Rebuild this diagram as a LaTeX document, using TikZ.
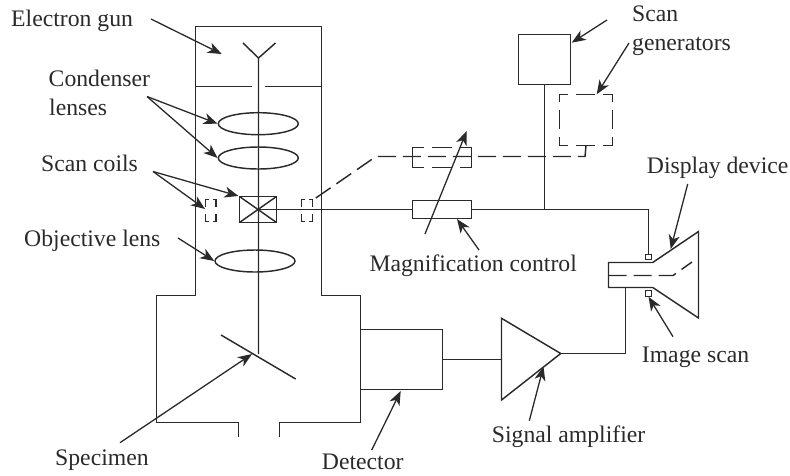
\documentclass[tikz,border=0pt]{standalone}
\usepackage{fontspec}
\setmainfont{Liberation Serif}
\usetikzlibrary{arrows.meta,shapes.geometric}
\definecolor{ink}{HTML}{2A2A2A}
\tikzset{
  lbl/.style={inner sep=0pt,anchor=base west,text=ink,font=\fontsize{23.7}{28}\selectfont},
  ln/.style={draw=ink,line width=1.45pt},
  dsh/.style={draw=ink,line width=1.45pt,dash pattern=on 18pt off 7pt},
  dshh/.style={draw=ink,line width=1.45pt,dash pattern=on 19pt off 8pt,dash phase=10pt},
  dshv/.style={draw=ink,line width=1.45pt,dash pattern=on 19pt off 8pt,dash phase=11pt},
  dshm/.style={draw=ink,line width=1.45pt,dash pattern=on 20pt off 8pt,dash phase=8.5pt},
  arr/.style={draw=ink,line width=1.3pt,-{Stealth[length=14pt,width=11pt,inset=4pt]}},
  lens/.style={draw=ink,line width=1.45pt,ellipse,inner sep=0pt,minimum width=80pt,minimum height=22pt},
  blk/.style={draw=ink,line width=1.45pt,inner sep=0pt},
  ghost/.style={inner sep=0pt}
}
\begin{document}
\begin{tikzpicture}[x=1pt,y=-1pt]
\useasboundingbox (0,0) rectangle (790,475);
% text
\node[lbl] (tgun) at (11,26.7) {Electron gun};
\node[lbl] (tcond) at (48.5,86.7) {Condenser};
\node[lbl] (tlens) at (49,115) {lenses};
\node[lbl] (tcoil) at (41,171) {Scan coils};
\node[lbl] (tobj) at (24,246) {Objective lens};
\node[lbl] (tmag) at (369.3,271) {Magnification control};
\node[lbl] (tscan) at (632,21.7) {Scan};
\node[lbl] (tgen) at (632,50.7) {generators};
\node[lbl] (tdisp) at (646.7,173) {Display device};
\node[lbl] (timg) at (641.7,362.7) {Image scan};
\node[lbl] (tsig) at (491.7,442.7) {Signal amplifier};
\node[lbl] (tdet) at (321.7,469) {Detector};
\node[lbl] (tspe) at (55,465) {Specimen};
% column and chamber
\draw[ln] (238.5,437) -- (238.5,422.5) -- (156.5,422.5) -- (156.5,295.5) -- (195.5,295.5) -- (195.5,26.5) -- (321.5,26.5) -- (321.5,295.5) -- (360.5,295.5) -- (360.5,422.5) -- (279.5,422.5) -- (279.5,437);
\draw[ln] (195.5,86.5) -- (251.5,86.5) (265,86.5) -- (321.5,86.5);
% gun and beam
\coordinate (yl) at (243,43);
\coordinate (yr) at (275.5,43);
\coordinate (yj) at (258.5,58);
\coordinate (spec) at (258.5,354);
\draw[ln] (yl) -- (yj) -- (yr) (yj) -- (spec);
% lenses
\node[lens] (l1) at (258.3,123.7) {};
\node[lens] (l2) at (258.3,158) {};
\node[lens] (l3) at (255,261) {};
% scan coil
\coordinate (sc1) at (239.5,196.5);
\coordinate (sc2) at (276.5,222.5);
\coordinate (sc3) at (276.5,196.5);
\coordinate (sc4) at (239.5,222.5);
\coordinate (scc) at (258.5,209.5);
\draw[ln] (sc1) rectangle (sc2);
\draw[ln] (sc1) -- (sc2) (sc3) -- (sc4);
% small dashed coils
\draw[ln] (205.5,206.7) -- (205.5,199.5) -- (209.2,199.5) (212.5,199.5) -- (216,199.5) -- (216,206.7);
\draw[ln] (205.5,214) -- (205.5,221.5) -- (209.2,221.5) (212.5,221.5) -- (216,221.5) -- (216,214);
\draw[ln] (301.5,206.7) -- (301.5,199.5) -- (304.8,199.5) (308.8,199.5) -- (312.5,199.5) -- (312.5,206.7);
\draw[ln] (301.5,214) -- (301.5,221.5) -- (304.8,221.5) (308.8,221.5) -- (312.5,221.5) -- (312.5,214);
% solid signal line
\node[blk,minimum width=59pt,minimum height=18pt] (mag) at (442,209.5) {};
\node[blk,minimum width=52pt,minimum height=50pt] (gen) at (544.5,59.5) {};
\coordinate (jn) at (544.5,209.5);
\coordinate (s1) at (648.5,209.5);
\node[draw=ink,line width=1pt,inner sep=0pt,minimum width=6pt,minimum height=5.5pt] (sqt) at (648.5,256.8) {};
\node[draw=ink,line width=1pt,inner sep=0pt,minimum width=6pt,minimum height=5.5pt] (sqb) at (648.5,293.5) {};
\draw[ln] (scc) -- (mag.west) (mag.east) -- (jn) -- (s1) -- (sqt.north);
\draw[ln] (gen.south) -- (jn);
% dashed scan
\node[ghost,minimum width=53pt,minimum height=51pt] (dgen) at (586,120) {};
\node[ghost,minimum width=59pt,minimum height=20pt] (dmag) at (442,157.5) {};
\draw[dshh] (dgen.north west) -- (dgen.north east);
\draw[dshh] (dgen.south west) -- (dgen.south east);
\draw[dshv] (dgen.north west) -- (dgen.south west);
\draw[dshv] (dgen.north east) -- (dgen.south east);
\draw[dshm] (dmag.north west) -- (dmag.north east);
\draw[dshm] (dmag.south west) -- (dmag.south east);
\draw[ln] (dmag.north west) -- (dmag.south west);
\draw[ln] (dmag.north east) -- (dmag.south east);
\draw[dsh] (dgen.south) -- (585,156.5) -- (376,156.5) -- (310,202);
% display
\coordinate (t1) at (608.5,262.5);
\coordinate (t2) at (652.7,262.5);
\coordinate (t3) at (698.5,231.5);
\coordinate (t4) at (698.5,318);
\coordinate (t5) at (652.7,287.5);
\coordinate (t6) at (608.5,287.5);
\draw[ln] (t1) -- (t2) -- (t3) -- (t4) -- (t5) -- (t6) -- cycle;
\draw[dsh] (608.5,275.5) -- (673,275.5) -- (692,262);
% chamber contents
\draw[ln] (221,335) -- (295.7,379);
\node[blk,minimum width=82pt,minimum height=60pt] (det) at (401.5,359.5) {};
\coordinate (a1) at (501.5,318.3);
\coordinate (a2) at (501.5,400);
\coordinate (a3) at (560.7,353.5);
\draw[ln] (a1) -- (a3) -- (a2) -- cycle;
\coordinate (ain) at (501.5,359.5);
\draw[ln] (det.east) -- (ain);
\coordinate (aoc) at (625.5,353.5);
\coordinate (tb) at (625.5,287.5);
\draw[ln] (a3) -- (aoc) -- (tb);
% arrows
\coordinate (p1) at (151,19);
\coordinate (p1t) at (221.7,54);
\draw[arr] (p1) -- (p1t);
\coordinate (p2) at (147,96.5);
\draw[arr] (p2) -- (l1.west);
\draw[arr] (p2) -- (l2.west);
\coordinate (p3) at (153,171.5);
\coordinate (p3a) at (238.5,196);
\draw[arr] (p3) -- (p3a);
\coordinate (p3t) at (205,209);
\draw[arr] (p3) -- (p3t);
\coordinate (p4) at (178,238);
\draw[arr] (p4) -- (l3.west);
\coordinate (p5) at (425,234);
\coordinate (p5t) at (466.7,131);
\draw[arr] (p5) -- (p5t);
\coordinate (p6) at (479,250);
\coordinate (p6t) at (457,219);
\draw[arr] (p6) -- (p6t);
\coordinate (p7) at (607,20);
\coordinate (p7t) at (571.7,42.7);
\draw[arr] (p7) -- (p7t);
\coordinate (p8) at (629,43);
\coordinate (p8t) at (596.7,94.3);
\draw[arr] (p8) -- (p8t);
\coordinate (p9) at (687.7,184);
\coordinate (p9t) at (670.7,249);
\draw[arr] (p9) -- (p9t);
\coordinate (p10) at (673,336.7);
\draw[arr] (p10) -- (sqb.south);
\coordinate (p11) at (529.3,420.7);
\coordinate (p11t) at (543.5,366.5);
\draw[arr] (p11) -- (p11t);
\coordinate (p12) at (371.7,450);
\coordinate (p12t) at (400.7,391);
\draw[arr] (p12) -- (p12t);
\coordinate (p13) at (120,442.7);
\coordinate (p13t) at (252,354);
\draw[arr] (p13) -- (p13t);
\end{tikzpicture}
\end{document}
